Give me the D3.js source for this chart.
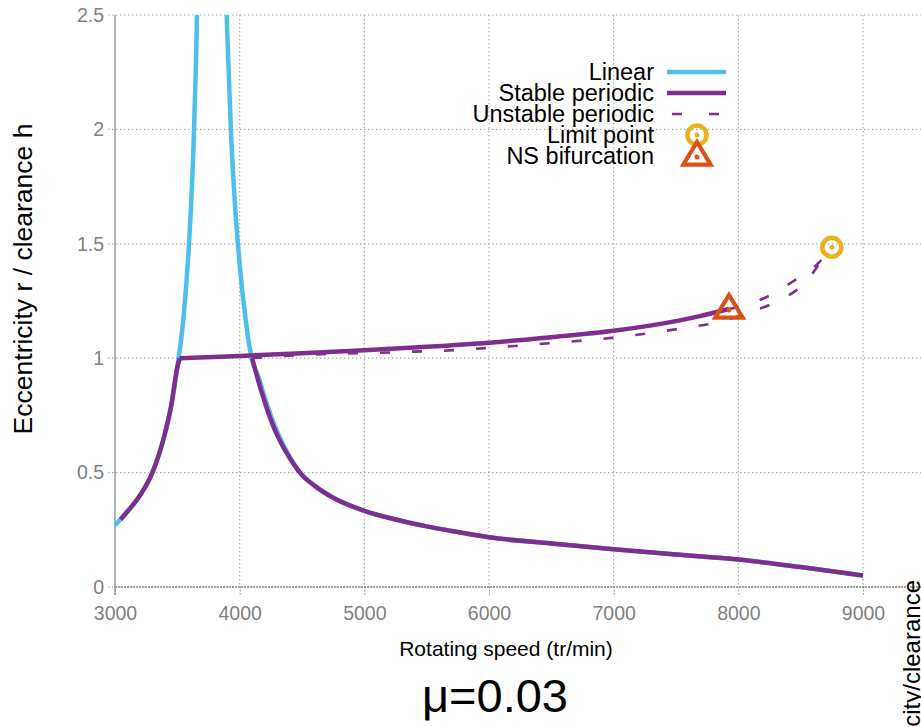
<!DOCTYPE html>
<html>
<head>
<meta charset="utf-8">
<script src="https://cdn.jsdelivr.net/npm/d3@7"></script>
<style>
  html, body { margin: 0; padding: 0; background: #fff; }
  svg { display: block; font-family: "Liberation Sans", Arial, Helvetica, sans-serif; }
</style>
</head>
<body>
<svg id="chart" width="921" height="727"></svg>
<script>
// ---------------- data ----------------
const xTicks = [3000, 4000, 5000, 6000, 7000, 8000, 9000];
const yTicks = [0, 0.5, 1, 1.5, 2, 2.5];
const yTickLabels = ["0", "0.5", "1", "1.5", "2", "2.5"];

// Linear response (two branches around the resonance)
const linearLeftRpm = [3000, 3100, 3200, 3300, 3400, 3450, 3500, 3550, 3600, 3630, 3650, 3670];
const linearLeftR   = [0.27, 0.33, 0.40, 0.50, 0.67, 0.79, 0.96, 1.18, 1.56, 1.93, 2.30, 2.85];
const linearRightRpm = [3885, 3900, 3930, 3960, 4000, 4050, 4100, 4150, 4200, 4250, 4300, 4400, 4500, 4600, 4750, 5000, 5250, 5500, 5750, 6000, 6500, 7000, 7500, 8000, 8500, 9000];
const linearRightR   = [2.73, 2.43, 1.99, 1.69, 1.41, 1.16, 0.99, 0.92, 0.83, 0.75, 0.68, 0.57, 0.49, 0.443, 0.39, 0.333, 0.295, 0.265, 0.24, 0.217, 0.19, 0.165, 0.142, 0.12, 0.087, 0.05];

// Stable periodic branches
const stableLowRpm = [3045, 3100, 3200, 3300, 3400, 3450, 3500, 3520];
const stableLowR   = [0.295, 0.33, 0.40, 0.50, 0.67, 0.79, 0.96, 1.00];
const stableUpRpm = [3520, 4000, 4500, 5000, 5500, 6000, 6500, 7000, 7500, 7700, 7925];
const stableUpR   = [1.00, 1.01, 1.022, 1.035, 1.05, 1.068, 1.092, 1.12, 1.162, 1.185, 1.215];
const stableRightRpm = [4100, 4150, 4200, 4250, 4300, 4400, 4500, 4600, 4750, 5000, 5250, 5500, 5750, 6000, 6500, 7000, 7500, 8000, 8500, 9000];
const stableRightR   = [1.00, 0.90, 0.81, 0.73, 0.665, 0.565, 0.49, 0.443, 0.39, 0.333, 0.295, 0.265, 0.24, 0.217, 0.19, 0.165, 0.142, 0.12, 0.087, 0.05];

// Unstable periodic branches
const unstableLowRpm = [4100, 4324, 4577, 4831, 5091, 5345, 5601, 6000, 6500, 7000, 7588, 7853, 8093, 8334, 8543, 8709, 8750];
const unstableLowR   = [1.00, 1.009, 1.016, 1.02, 1.023, 1.028, 1.032, 1.045, 1.066, 1.09, 1.134, 1.159, 1.202, 1.254, 1.334, 1.459, 1.485];
const unstableUpRpm = [7925, 8214, 8434, 8641, 8750];
const unstableUpR   = [1.215, 1.264, 1.334, 1.415, 1.485];

// Special points
const limitPointRpm = [8750];
const limitPointR   = [1.485];
const nsRpm = [7925];
const nsR   = [1.215];

const legendLabels = ["Linear", "Stable periodic", "Unstable periodic", "Limit point", "NS bifurcation"];
const titleText = "μ=0.03";
const xLabel = "Rotating speed (tr/min)";
const yLabel = "Eccentricity r / clearance h";
const neighbourLabel = "Eccentricity/clearance";

// ---------------- drawing ----------------
const C_BLUE = "#4DBEEE", C_PURPLE = "#7E2F8E", C_YELLOW = "#EDB120", C_ORANGE = "#D95319";
const GRID = "#aaaaaa", AXIS = "#888888", TICKTXT = "#7f7f7f";

const svg = d3.select("#chart");
const x = d3.scaleLinear().domain([3000, 9000]).range([115, 863]);
const y = d3.scaleLinear().domain([0, 2.5]).range([587, 15]);
const plotRight = 921;

const zip = (a, b) => a.map((v, i) => [v, b[i]]);

// grid
const grid = svg.append("g");
grid.selectAll("line.h").data(yTicks).join("line")
  .attr("x1", 108).attr("x2", plotRight)
  .attr("y1", d => y(d)).attr("y2", d => y(d))
  .attr("stroke", GRID).attr("stroke-width", 1.2).attr("stroke-dasharray", "1.5,2.5");
grid.selectAll("line.v").data(xTicks.slice(1)).join("line")
  .attr("x1", d => x(d)).attr("x2", d => x(d))
  .attr("y1", 15).attr("y2", 587)
  .attr("stroke", GRID).attr("stroke-width", 1.2).attr("stroke-dasharray", "1.5,2.5");

// axes
const xAxis = d3.axisBottom(x).tickValues(xTicks).tickFormat(d3.format("d")).tickSize(8).tickPadding(11);
const gx = svg.append("g").attr("transform", "translate(0,587)").call(xAxis);
gx.select(".domain").remove();
gx.append("line").attr("x1", 115).attr("x2", plotRight).attr("y1", 0).attr("y2", 0)
  .attr("stroke", AXIS).attr("stroke-width", 1.3).attr("stroke-dasharray", "2,1");
gx.selectAll(".tick line").attr("stroke", AXIS).attr("stroke-dasharray", "1.5,1.5").attr("y1", 0);
gx.selectAll(".tick text").attr("fill", TICKTXT).attr("font-size", 19.5).attr("font-family", "Liberation Sans, Arial, sans-serif");

const yAxis = d3.axisLeft(y).tickValues(yTicks).tickFormat((d, i) => yTickLabels[i]).tickSize(0).tickPadding(11);
const gy = svg.append("g").attr("transform", "translate(115,0)").call(yAxis);
gy.select(".domain").remove();
gy.append("line").attr("x1", 0).attr("x2", 0).attr("y1", 15).attr("y2", 595)
  .attr("stroke", AXIS).attr("stroke-width", 1.3);
gy.selectAll(".tick text").attr("fill", TICKTXT).attr("font-size", 19.5).attr("font-family", "Liberation Sans, Arial, sans-serif");

// clip
svg.append("clipPath").attr("id", "clip").append("rect")
  .attr("x", 113).attr("y", 15).attr("width", plotRight - 113).attr("height", 580);
const plot = svg.append("g").attr("clip-path", "url(#clip)");

const lineCR = d3.line().x(d => x(d[0])).y(d => y(d[1])).curve(d3.curveMonotoneX);

function drawLine(data, color, width, dash) {
  const p = plot.append("path").datum(data).attr("d", lineCR)
    .attr("fill", "none").attr("stroke", color).attr("stroke-width", width)
    .attr("stroke-linejoin", "round").attr("stroke-linecap", "butt");
  if (dash) p.attr("stroke-dasharray", dash);
  return p;
}

drawLine(zip(linearLeftRpm, linearLeftR), C_BLUE, 4.5);
drawLine(zip(linearRightRpm, linearRightR), C_BLUE, 4.5);
drawLine(zip(unstableLowRpm, unstableLowR), C_PURPLE, 2.6, "10,22");
drawLine(zip(unstableUpRpm, unstableUpR), C_PURPLE, 2.6, "10,22");
drawLine(zip(stableLowRpm, stableLowR), C_PURPLE, 4.5);
drawLine(zip(stableUpRpm, stableUpR), C_PURPLE, 4.5);
drawLine(zip(stableRightRpm, stableRightR), C_PURPLE, 4.5);

// markers
function circleMarker(g, cx, cy) {
  g.append("circle").attr("cx", cx).attr("cy", cy).attr("r", 9.5)
    .attr("fill", "none").attr("stroke", C_YELLOW).attr("stroke-width", 4.5);
  g.append("circle").attr("cx", cx).attr("cy", cy).attr("r", 2.5).attr("fill", C_YELLOW);
}
function triMarker(g, cx, cy) {
  const s = 14;
  const pts = [[cx, cy - s], [cx + s * 0.98, cy + s * 0.62], [cx - s * 0.98, cy + s * 0.62]];
  g.append("path").attr("d", "M" + pts.map(p => p.join(",")).join("L") + "Z")
    .attr("fill", "none").attr("stroke", C_ORANGE).attr("stroke-width", 4.2).attr("stroke-linejoin", "miter");
  g.append("circle").attr("cx", cx).attr("cy", cy + 1).attr("r", 2.5).attr("fill", C_ORANGE);
}
const mk = svg.append("g");
zip(limitPointRpm, limitPointR).forEach(d => circleMarker(mk, x(d[0]), y(d[1])));
zip(nsRpm, nsR).forEach(d => triMarker(mk, x(d[0]), y(d[1])));

// legend
const lg = svg.append("g");
const legRowY = [72, 93, 114, 135, 156];
legendLabels.forEach((t, i) => {
  lg.append("text").attr("x", 654).attr("y", legRowY[i] + 8).attr("text-anchor", "end")
    .attr("font-size", 23.5).attr("fill", "#000").text(t);
});
lg.append("line").attr("x1", 667).attr("x2", 726).attr("y1", legRowY[0]).attr("y2", legRowY[0])
  .attr("stroke", C_BLUE).attr("stroke-width", 4.5);
lg.append("line").attr("x1", 667).attr("x2", 726).attr("y1", legRowY[1]).attr("y2", legRowY[1])
  .attr("stroke", C_PURPLE).attr("stroke-width", 4.5);
lg.append("line").attr("x1", 667).attr("x2", 726).attr("y1", legRowY[2]).attr("y2", legRowY[2])
  .attr("stroke", C_PURPLE).attr("stroke-width", 2.6).attr("stroke-dasharray", "0,5,10,22");
circleMarker(lg, 697, legRowY[3]);
triMarker(lg, 697, legRowY[4]);

// labels
svg.append("text").attr("x", 506).attr("y", 656).attr("text-anchor", "middle")
  .attr("font-size", 21).attr("fill", "#000").text(xLabel);
svg.append("text").attr("transform", "translate(32,279) rotate(-90)").attr("text-anchor", "middle")
  .attr("font-size", 26.5).attr("fill", "#000").text(yLabel);
svg.append("text").attr("x", 495).attr("y", 712).attr("text-anchor", "middle")
  .attr("font-size", 47).attr("fill", "#000").text(titleText);
svg.append("text").attr("transform", "translate(920,580) rotate(-90)").attr("text-anchor", "end")
  .attr("font-size", 24).attr("fill", "#000").text(neighbourLabel);
</script>
</body>
</html>
